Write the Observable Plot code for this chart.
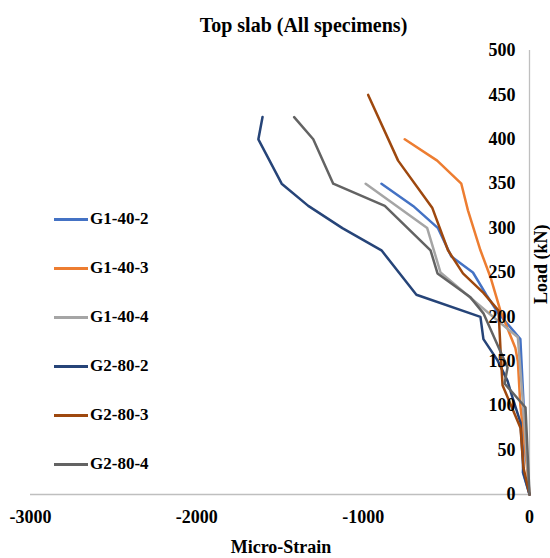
<!DOCTYPE html>
<html><head><meta charset="utf-8">
<script src="https://cdn.jsdelivr.net/npm/d3@7"></script>
<script src="https://cdn.jsdelivr.net/npm/@observablehq/plot@0.6"></script>
<style>
body{margin:0;background:#fff;}
#wrap{position:relative;width:550px;height:558px;font-family:"Liberation Serif","Times New Roman",serif;font-weight:bold;}
#title{position:absolute;left:0;top:13px;width:607px;text-align:center;font-size:20px;line-height:24px;}
#legend{position:absolute;left:54px;top:0;}
.item{position:absolute;left:0;white-space:nowrap;font-size:17px;line-height:20px;}
.sw{display:inline-block;width:34px;height:3px;vertical-align:middle;margin-right:2px;position:relative;top:-1px;}
</style></head><body>
<div id="wrap"><div id="chart"></div><div id="title">Top slab (All specimens)</div><div id="legend"></div></div>
<script>
const seriesNames = ["G1-40-2","G1-40-3","G1-40-4","G2-80-2","G2-80-3","G2-80-4"];
const seriesColors = ["#4472C4","#ED7D31","#A5A5A5","#264478","#9E480E","#636363"];
const g1_40_2 = [[0,0],[-40,25],[-35,50],[-35,100],[-55,175],[-190,205],[-260,225],[-340,250],[-470,268],[-550,300],[-700,325],[-890,350]];
const g1_40_3 = [[0,0],[-12,25],[-40,75],[-55,100],[-70,150],[-85,165],[-175,207],[-235,245],[-295,275],[-370,320],[-410,350],[-555,376],[-750,400]];
const g1_40_4 = [[0,0],[-10,25],[-40,105],[-70,177],[-250,205],[-535,250],[-615,300],[-985,350]];
const g2_80_2 = [[0,0],[-36,24],[-54,81],[-110,114],[-132,128],[-192,151],[-277,175],[-295,200],[-680,225],[-890,275],[-1125,300],[-1330,325],[-1490,350],[-1630,400],[-1605,425]];
const g2_80_3 = [[0,0],[-36,30],[-54,75],[-162,123],[-174,162],[-186,207],[-277,227],[-400,249],[-490,275],[-585,323],[-790,376],[-970,450]];
const g2_80_4 = [[0,0],[-24,98],[-150,125],[-132,143],[-277,204],[-355,222],[-553,249],[-595,275],[-870,325],[-1180,350],[-1300,400],[-1415,425]];
const allSeries = [g1_40_2,g1_40_3,g1_40_4,g2_80_2,g2_80_3,g2_80_4];
const xTicks = [-3000,-2000,-1000,0];
const yTicks = [0,50,100,150,200,250,300,350,400,450,500];

const rows = allSeries.flatMap((s,i)=>s.map(([x,y])=>({series:seriesNames[i],x,y})));

const chart = Plot.plot({
  width:550, height:558,
  marginLeft:30, marginRight:21, marginTop:50, marginBottom:64,
  style:{fontFamily:'"Liberation Serif","Times New Roman",serif',fontWeight:"bold",fontSize:"18px",color:"#000",background:"#fff"},
  x:{domain:[-3000,0]},
  y:{domain:[0,500]},
  color:{domain:seriesNames, range:seriesColors},
  marks:[
    Plot.ruleY([0],{stroke:"#bfbfbf",strokeWidth:1.3}),
    Plot.ruleX([0],{stroke:"#bfbfbf",strokeWidth:1.3}),
    Plot.lineY(rows,{x:"x",y:"y",stroke:"series",strokeWidth:2.5,z:"series"}),
    Plot.axisX({ticks:xTicks,tickSize:0,tickPadding:16,fontSize:18,label:null,tickFormat:d=>String(d)}),
    Plot.axisY({anchor:"right",ticks:yTicks,tickSize:0,tickPadding:0,textAnchor:"end",dx:-14,fontSize:18,label:null,tickFormat:d=>String(d)}),
    Plot.text(["Micro-Strain"],{frameAnchor:"bottom",dy:58,dx:1,fontSize:18,fontWeight:"bold"}),
    Plot.text(["Load (kN)"],{frameAnchor:"right",dx:12,rotate:-90,fontSize:18,fontWeight:"bold",dy:-48})
  ]
});
document.getElementById("chart").appendChild(chart);

const leg = document.getElementById("legend");
seriesNames.forEach((n,i)=>{
  const d=document.createElement("div");
  d.className="item";
  d.style.top=(209+i*49)+"px";
  d.innerHTML=`<span class="sw" style="background:${seriesColors[i]}"></span>${n}`;
  leg.appendChild(d);
});
</script>
</body></html>
